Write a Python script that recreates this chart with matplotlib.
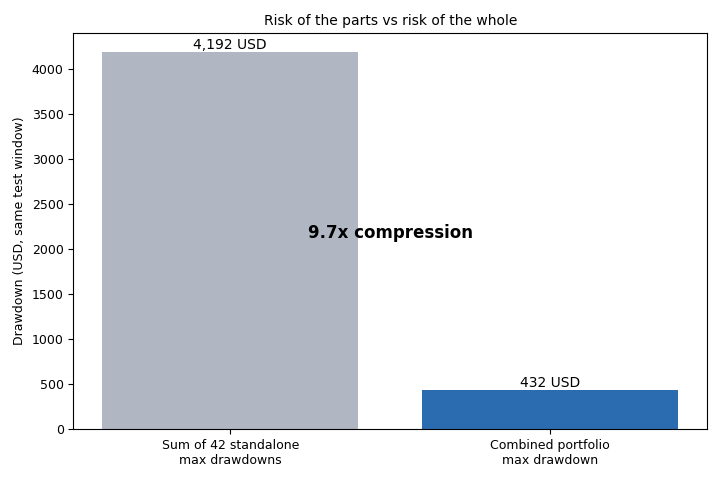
import matplotlib
matplotlib.use("Agg")
import matplotlib.pyplot as plt

labels = ["Sum of 42 standalone\nmax drawdowns", "Combined portfolio\nmax drawdown"]
values = [4192, 432]
colors = ["#b0b7c3", "#2b6cb0"]

fig, ax = plt.subplots(figsize=(7.2, 4.8), dpi=100)
bars = ax.bar(range(len(values)), values, color=colors, width=0.8)
ax.set_xticks(range(len(values)))
ax.set_xticklabels(labels)
ax.tick_params(axis="both", labelsize=9)

for b, v in zip(bars, values):
    ax.text(b.get_x() + b.get_width() / 2, v, f"{v:,} USD",
            ha="center", va="bottom", fontsize=10)

ratio = values[0] / values[1]
ax.text(0.5, max(values) * 0.52, f"{ratio:.1f}x compression",
        ha="center", va="center", fontsize=12, fontweight="bold")

ax.set_ylabel("Drawdown (USD, same test window)", fontsize=9)
ax.set_title("Risk of the parts vs risk of the whole", fontsize=10)

fig.subplots_adjust(left=0.102, right=0.982, top=0.931, bottom=0.106)
fig.savefig("out.png")
